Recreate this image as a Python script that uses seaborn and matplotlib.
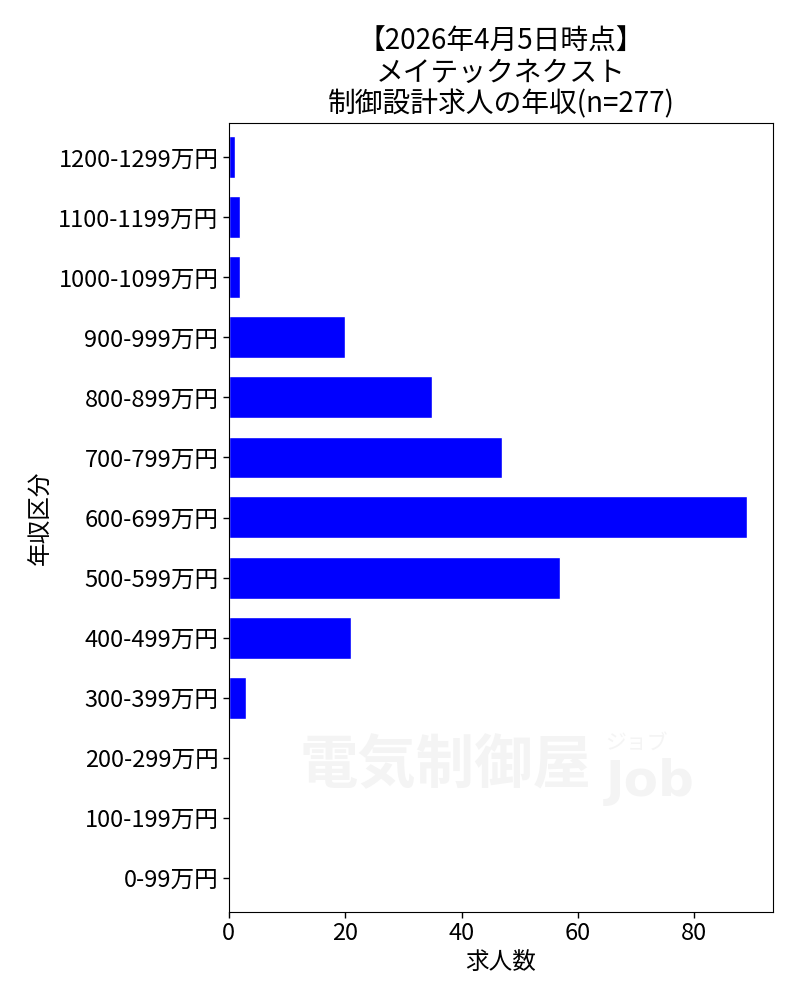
import matplotlib
matplotlib.use("Agg")
import matplotlib.pyplot as plt
import seaborn as sns
import pandas as pd

# 年収区分ごとの求人数（上から順）
categories = ["1200-1299万円", "1100-1199万円", "1000-1099万円", "900-999万円",
              "800-899万円", "700-799万円", "600-699万円", "500-599万円",
              "400-499万円", "300-399万円", "200-299万円", "100-199万円", "0-99万円"]
counts = [1, 2, 2, 20, 35, 47, 89, 57, 21, 3, 0, 0, 0]

title = "【2026年4月5日時点】\nメイテックネクスト\n制御設計求人の年収(n=277)"

df = pd.DataFrame({"年収区分": categories, "求人数": counts})

sns.set_style("white")
plt.rcParams['font.family'] = ['Noto Sans CJK JP', 'DejaVu Sans']
plt.rcParams['text.color'] = 'black'
plt.rcParams['axes.labelcolor'] = 'black'
plt.rcParams['xtick.color'] = 'black'
plt.rcParams['ytick.color'] = 'black'

fig = plt.figure(figsize=(8, 10), dpi=100)
ax = fig.add_axes([0.286, 0.088, 0.68, 0.789])

sns.barplot(data=df, x="求人数", y="年収区分", order=categories, color="blue",
            width=0.7, saturation=1, ax=ax, zorder=2)

# 透かし
wm = "#f4f4f4"
ax.text(0.13, 0.185, "電気制御屋", transform=ax.transAxes, fontsize=42,
        fontweight="bold", color=wm, ha="left", va="center", zorder=1)
ax.text(0.775, 0.165, "Job", transform=ax.transAxes, fontsize=36,
        fontweight="bold", color=wm, ha="center", va="center",
        family="DejaVu Sans", zorder=1)
ax.text(0.75, 0.215, "ジョブ", transform=ax.transAxes, fontsize=15,
        color=wm, ha="center", va="center", zorder=1)

ax.set_ylim(len(categories) - 1 + 0.575, -0.575)
ax.set_xlim(0, 93.5)
ax.set_xticks([0, 20, 40, 60, 80])

for s in ax.spines.values():
    s.set_visible(True)
    s.set_color("black")
    s.set_linewidth(0.8)

ax.tick_params(axis="both", which="major", length=4, width=1, color="black",
               labelsize=17, bottom=True, left=True)
ax.set_xlabel("求人数", fontsize=17)
ax.set_ylabel("年収区分", fontsize=17)
ax.set_title(title, fontsize=20, linespacing=1.05, pad=8, color="black")

plt.savefig("out.png", dpi=100)
